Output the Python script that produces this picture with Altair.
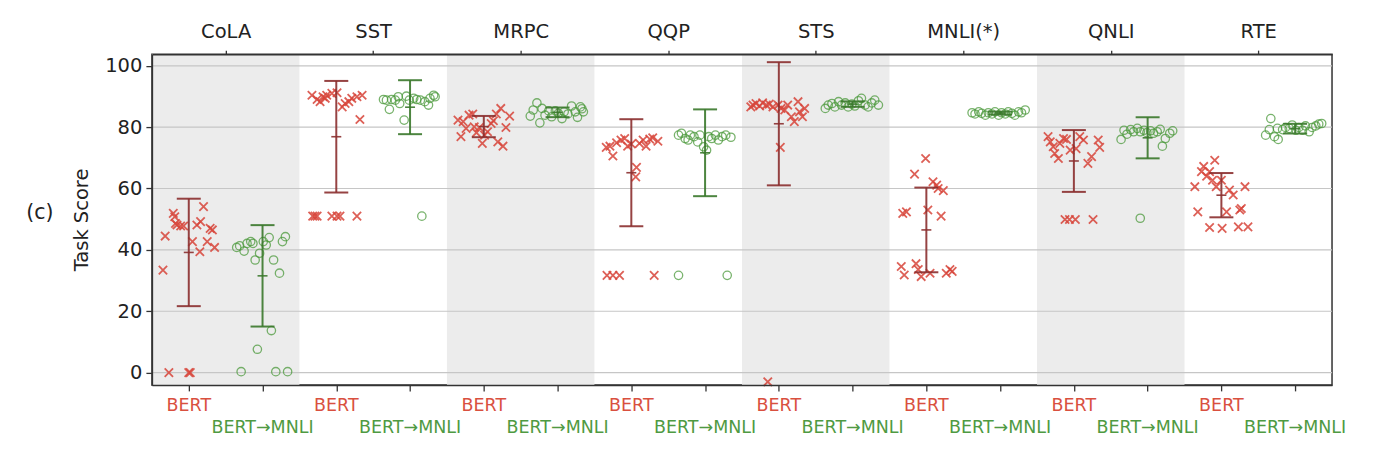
import json
import altair as alt
import pandas as pd

TASKS = ["CoLA", "SST", "MRPC", "QQP", "STS", "MNLI(*)", "QNLI", "RTE"]
MODELS = ["BERT", "BERT→MNLI"]
Y_TICKS = [0, 20, 40, 60, 80, 100]

# ---- per-seed task scores (y) and horizontal jitter offsets (dx) ----
COLA_BERT_Y = [33.4, 44.5, 0, 0, 0, 51.9, 50.8, 48.1, 47.8, 47.8, 48.6, 54.1, 49.2, 48.1, 42.7, 39.4, 42.7, 47.0, 46.5, 40.8]
COLA_BERT_DX = [-0.35, -0.32, -0.27, 0.0, 0.02, -0.21, -0.19, -0.16, -0.11, -0.07, -0.18, 0.20, 0.16, 0.11, 0.05, 0.15, 0.25, 0.29, 0.32, 0.35]
COLA_MNLI_Y = [40.8, 41.3, 39.6, 42.1, 42.7, 42.1, 36.7, 38.9, 42.7, 41.6, 44.0, 36.7, 32.4, 42.7, 44.3, 13.7, 7.6, 0.3, 0.3, 0.3]
COLA_MNLI_DX = [-0.35, -0.31, -0.25, -0.21, -0.16, -0.13, -0.10, -0.04, 0.01, 0.05, 0.09, 0.15, 0.23, 0.27, 0.31, 0.12, -0.07, -0.29, 0.18, 0.34]

SST_BERT_Y = [90.4, 89.0, 88.3, 89.9, 89.4, 90.4, 91.0, 91.2, 86.6, 87.7, 88.3, 89.4, 89.9, 90.4, 82.5, 51, 51, 51, 51, 51, 51, 51]
SST_BERT_DX = [-0.33, -0.26, -0.22, -0.18, -0.15, -0.13, -0.06, 0.01, 0.08, 0.12, 0.17, 0.21, 0.28, 0.35, 0.32, -0.32, -0.29, -0.26, -0.06, 0.01, 0.05, 0.28]
SST_MNLI_Y = [89.0, 88.8, 85.8, 89.0, 88.8, 89.9, 87.7, 82.3, 90.1, 88.8, 89.4, 89.0, 88.8, 88.3, 87.2, 89.4, 90.4, 89.9, 51]
SST_MNLI_DX = [-0.36, -0.32, -0.28, -0.25, -0.20, -0.16, -0.14, -0.08, -0.05, -0.01, 0.05, 0.09, 0.14, 0.20, 0.25, 0.27, 0.32, 0.34, 0.16]

MRPC_BERT_Y = [82.3, 76.9, 81.8, 79.6, 83.9, 84.3, 80.1, 78.2, 79.9, 74.7, 77.4, 78.5, 81.2, 82.1, 84.3, 86.1, 73.8, 79.9, 83.6, 75.2]
MRPC_BERT_DX = [-0.35, -0.31, -0.28, -0.24, -0.20, -0.15, -0.13, -0.10, -0.06, -0.02, 0.01, 0.05, 0.10, 0.13, 0.17, 0.23, 0.26, 0.30, 0.35, 0.19]
MRPC_MNLI_Y = [83.6, 85.6, 87.9, 81.4, 86.1, 83.9, 85.3, 83.4, 85.3, 84.5, 82.8, 85.0, 84.3, 86.9, 85.0, 83.2, 86.6, 85.0, 86.0]
MRPC_MNLI_DX = [-0.37, -0.33, -0.28, -0.24, -0.21, -0.17, -0.12, -0.08, -0.03, 0.01, 0.06, 0.09, 0.14, 0.19, 0.24, 0.27, 0.31, 0.35, 0.33]

QQP_BERT_Y = [73.4, 73.8, 70.6, 74.9, 75.8, 76.3, 73.8, 74.5, 66.9, 63.8, 74.7, 75.8, 73.8, 76.1, 76.5, 75.4, 31.7, 31.7, 31.7, 31.7]
QQP_BERT_DX = [-0.34, -0.29, -0.25, -0.20, -0.14, -0.09, -0.05, 0.0, 0.07, 0.06, 0.11, 0.16, 0.20, 0.25, 0.29, 0.36, -0.33, -0.25, -0.16, 0.31]
QQP_MNLI_Y = [77.4, 78.0, 76.3, 75.8, 77.4, 76.9, 75.2, 77.4, 73.6, 72.5, 76.9, 76.3, 77.4, 75.8, 76.9, 77.4, 76.7, 31.7, 31.7]
QQP_MNLI_DX = [-0.36, -0.32, -0.27, -0.23, -0.20, -0.15, -0.10, -0.07, -0.02, 0.02, 0.05, 0.09, 0.14, 0.18, 0.23, 0.28, 0.35, -0.36, 0.30]

STS_BERT_Y = [86.6, 87.2, 87.7, 86.9, 87.9, 87.2, 87.5, 86.6, 87.2, 86.1, 85.6, 87.2, 83.4, 81.8, 88.3, 85.0, 83.4, 86.1, 73.4, -3.0]
STS_BERT_DX = [-0.38, -0.35, -0.31, -0.26, -0.22, -0.17, -0.13, -0.08, -0.01, 0.03, 0.08, 0.12, 0.17, 0.21, 0.26, 0.28, 0.32, 0.35, 0.02, -0.15]
STS_MNLI_Y = [86.1, 87.2, 87.7, 86.6, 88.3, 87.2, 87.9, 86.6, 87.5, 86.9, 88.6, 89.4, 87.2, 86.6, 87.9, 88.8, 87.2]
STS_MNLI_DX = [-0.37, -0.33, -0.28, -0.24, -0.19, -0.15, -0.10, -0.06, -0.01, 0.03, 0.08, 0.12, 0.17, 0.21, 0.26, 0.30, 0.35]

MNLI_BERT_Y = [69.8, 64.7, 62.2, 60.0, 59.3, 51.9, 52.4, 53.0, 51.0, 34.6, 31.8, 35.5, 33.6, 31.3, 32.4, 32.4, 33.6, 33.0, 61.1]
MNLI_BERT_DX = [-0.01, -0.16, 0.09, 0.16, 0.23, -0.32, -0.27, 0.02, 0.20, -0.34, -0.30, -0.14, -0.11, -0.07, 0.05, 0.27, 0.32, 0.35, 0.14]
MNLI_MNLI_Y = [84.7, 84.3, 85.0, 84.5, 83.9, 84.7, 84.3, 85.0, 83.9, 84.7, 84.3, 85.0, 84.5, 83.9, 85.0, 84.7, 85.6]
MNLI_MNLI_DX = [-0.38, -0.34, -0.29, -0.25, -0.20, -0.16, -0.11, -0.07, -0.02, 0.02, 0.07, 0.11, 0.16, 0.20, 0.25, 0.29, 0.34]

QNLI_BERT_Y = [76.9, 75.2, 73.6, 71.4, 69.8, 74.7, 76.3, 76.0, 72.5, 73.0, 76.9, 75.8, 68.2, 70.4, 75.8, 73.4, 49.9, 49.9, 49.9, 49.9]
QNLI_BERT_DX = [-0.35, -0.32, -0.28, -0.26, -0.21, -0.19, -0.14, -0.10, -0.05, 0.03, 0.08, 0.13, 0.19, 0.24, 0.33, 0.35, -0.12, -0.06, 0.02, 0.26]
QNLI_MNLI_Y = [76.0, 79.0, 77.7, 79.2, 78.5, 79.6, 78.5, 79.0, 78.2, 78.8, 78.0, 78.5, 73.8, 76.3, 78.0, 78.8, 50.3, 79.3]
QNLI_MNLI_DX = [-0.36, -0.32, -0.28, -0.23, -0.19, -0.14, -0.10, -0.05, -0.01, 0.04, 0.08, 0.13, 0.20, 0.24, 0.30, 0.34, -0.10, 0.17]

RTE_BERT_Y = [60.6, 52.4, 65.5, 67.2, 64.0, 65.5, 62.7, 47.3, 69.2, 60.6, 47.0, 52.4, 59.5, 57.9, 47.5, 53.0, 53.5, 60.6, 47.5, 62.7]
RTE_BERT_DX = [-0.36, -0.32, -0.27, -0.24, -0.20, -0.16, -0.12, -0.16, -0.09, -0.07, 0.01, 0.07, 0.11, 0.16, 0.23, 0.25, 0.27, 0.32, 0.36, 0.0]
RTE_MNLI_Y = [77.4, 79.2, 82.8, 76.9, 76.0, 79.6, 79.2, 79.9, 79.6, 80.7, 79.0, 79.9, 79.0, 80.4, 78.5, 79.9, 80.4, 81.0, 81.2]
RTE_MNLI_DX = [-0.40, -0.35, -0.33, -0.28, -0.23, -0.24, -0.17, -0.13, -0.08, -0.04, 0.01, 0.05, 0.10, 0.14, 0.19, 0.23, 0.28, 0.32, 0.36]

GROUPS = [
    (COLA_BERT_Y, COLA_BERT_DX), (COLA_MNLI_Y, COLA_MNLI_DX),
    (SST_BERT_Y, SST_BERT_DX), (SST_MNLI_Y, SST_MNLI_DX),
    (MRPC_BERT_Y, MRPC_BERT_DX), (MRPC_MNLI_Y, MRPC_MNLI_DX),
    (QQP_BERT_Y, QQP_BERT_DX), (QQP_MNLI_Y, QQP_MNLI_DX),
    (STS_BERT_Y, STS_BERT_DX), (STS_MNLI_Y, STS_MNLI_DX),
    (MNLI_BERT_Y, MNLI_BERT_DX), (MNLI_MNLI_Y, MNLI_MNLI_DX),
    (QNLI_BERT_Y, QNLI_BERT_DX), (QNLI_MNLI_Y, QNLI_MNLI_DX),
    (RTE_BERT_Y, RTE_BERT_DX), (RTE_MNLI_Y, RTE_MNLI_DX),
]

rows = []
for pos, (ys_, dxs) in enumerate(GROUPS):
    for yv, dx in zip(ys_, dxs):
        rows.append({"pos": pos, "model": MODELS[pos % 2], "task": TASKS[pos // 2],
                     "x": pos + dx, "score": yv})
df = pd.DataFrame(rows)
labels_df = pd.DataFrame({"pos": list(range(2 * len(TASKS))),
                          "model": [MODELS[p % 2] for p in range(2 * len(TASKS))]})
bands_df = pd.DataFrame({"task": TASKS, "i": list(range(len(TASKS)))})
grid_df = pd.DataFrame({"y": Y_TICKS})
panel_df = pd.DataFrame({"t": ["(c)"]})

# ---- styling ----
W, H = 1181, 331
XDOM = [-0.5, 2 * len(TASKS) - 0.5]
YDOM = [-4, 103.8]
FONT = "DejaVu Sans"
RED, GREEN = "#d8453a", "#4c9a3c"
RED_DARK, GREEN_DARK = "#8b2f2f", "#3a782b"
LBL_RED, LBL_GREEN = "#d9503f", "#4f9a42"
AX = "#333333"

xs = alt.Scale(domain=XDOM, nice=False, zero=False)
ysc = alt.Scale(domain=YDOM, nice=False, zero=False)

YAX = alt.Axis(values=Y_TICKS, title="Task Score", grid=False, tickSize=6, tickWidth=1.3,
               tickColor=AX, domain=True, domainColor=AX, domainWidth=1.5,
               labelFontSize=19.5, titleFontSize=19.5, labelFont=FONT, titleFont=FONT,
               labelColor="#222222", titleColor="#222222", titleFontWeight="normal",
               labelPadding=4, titlePadding=13, zindex=1)
TOP_AX = alt.Axis(orient="top", values=[2 * k + 0.5 for k in range(len(TASKS))],
                  labelExpr=json.dumps(TASKS) + "[floor(datum.value / 2)]",
                  title=None, grid=False, tickSize=4, tickWidth=1.3, tickColor=AX,
                  domain=True, domainColor=AX, domainWidth=1.5, labelAngle=0,
                  labelFontSize=19.5, labelFont=FONT, labelColor="#222222",
                  labelPadding=9, zindex=1)
BOT_AX = alt.Axis(orient="bottom", values=list(range(2 * len(TASKS))), labels=False,
                  title=None, grid=False, tickSize=6, tickWidth=1.3, tickColor=AX,
                  domain=True, domainColor=AX, domainWidth=1.5, zindex=1)

bands = (alt.Chart(bands_df)
         .transform_filter("datum.i % 2 == 0")
         .transform_calculate(x0="2 * datum.i - 0.5", x1="2 * datum.i + 1.5")
         .mark_rect(color="#ececec")
         .encode(x=alt.X("x0:Q", scale=xs, axis=TOP_AX), x2="x1:Q",
                 y=alt.YDatum(YDOM[1], scale=ysc, axis=YAX), y2=alt.Y2Datum(YDOM[0])))

grid = (alt.Chart(grid_df).mark_rule(color="#c6c6c6", strokeWidth=1.2)
        .encode(y=alt.Y("y:Q", scale=ysc, axis=YAX)))

layers = [bands, grid]

pts_red = (alt.Chart(df).transform_filter(alt.datum.model == MODELS[0])
           .mark_point(shape="M-1,-1L1,1M-1,1L1,-1", filled=False, size=70,
                       strokeWidth=1.8, color=RED, opacity=0.85)
           .encode(x=alt.X("x:Q", scale=xs, axis=BOT_AX),
                   y=alt.Y("score:Q", scale=ysc, axis=YAX)))
pts_green = (alt.Chart(df).transform_filter(alt.datum.model == MODELS[1])
             .mark_point(shape="circle", filled=False, size=70, strokeWidth=1.3,
                         color=GREEN, opacity=0.75)
             .encode(x=alt.X("x:Q", scale=xs, axis=None),
                     y=alt.Y("score:Q", scale=ysc, axis=YAX)))
layers += [pts_red, pts_green]

for model, col in [(MODELS[0], RED_DARK), (MODELS[1], GREEN_DARK)]:
    stats = (alt.Chart(df).transform_filter(alt.datum.model == model)
             .transform_aggregate(mean="mean(score)", sd="stdev(score)", groupby=["pos"])
             .transform_calculate(lo="datum.mean - datum.sd", hi="datum.mean + datum.sd"))
    xe = alt.X("pos:Q", scale=xs, axis=None)
    layers.append(stats.mark_rule(color=col, strokeWidth=2, opacity=0.9)
                  .encode(x=xe, y=alt.Y("lo:Q", scale=ysc, axis=YAX), y2="hi:Q"))
    for fld in ["lo", "hi"]:
        layers.append(stats.mark_tick(orient="horizontal", size=24, thickness=2, color=col, opacity=0.9)
                      .encode(x=xe, y=alt.Y(f"{fld}:Q", scale=ysc, axis=YAX)))
    layers.append(stats.mark_tick(orient="horizontal", size=10, thickness=1.6, color=col, opacity=0.9)
                  .encode(x=xe, y=alt.Y("mean:Q", scale=ysc, axis=YAX)))

lbl_red = (alt.Chart(labels_df).transform_filter(alt.datum.model == MODELS[0])
           .mark_text(font=FONT, fontSize=17.5, color=LBL_RED, baseline="middle", align="center")
           .encode(x=alt.X("pos:Q", scale=xs, axis=None), y=alt.value(H + 21), text="model:N"))
lbl_green = (alt.Chart(labels_df).transform_filter(alt.datum.model == MODELS[1])
             .mark_text(font=FONT, fontSize=17.5, color=LBL_GREEN, baseline="middle", align="center")
             .encode(x=alt.X("pos:Q", scale=xs, axis=None), y=alt.value(H + 43), text="model:N"))
panel = (alt.Chart(panel_df).mark_text(font=FONT, fontSize=20.5, color="#222222",
                                       baseline="middle", align="center")
         .encode(x=alt.value(-112), y=alt.value(159), text="t:N"))
layers += [lbl_red, lbl_green, panel]

chart = (alt.layer(*layers)
         .resolve_scale(x="independent")
         .properties(width=W, height=H,
                     padding={"left": 144, "top": 46, "right": 36, "bottom": 62},
                     autosize=alt.AutoSizeParams(type="none"), background="white")
         .configure(font=FONT)
         .configure_view(stroke=AX, strokeWidth=1.5))

chart.save("out.html", embed_options={"renderer": "svg", "actions": False})
